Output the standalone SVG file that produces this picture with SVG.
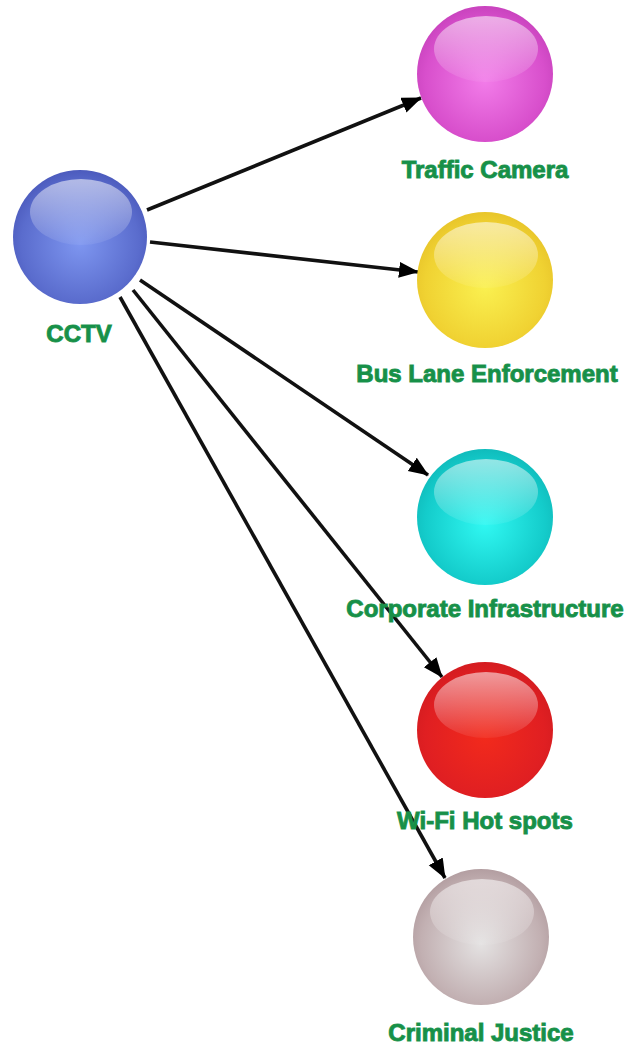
<svg xmlns="http://www.w3.org/2000/svg" width="633" height="1046" viewBox="0 0 633 1046">
<style>
.lbl{font-family:"Liberation Sans",Arial,sans-serif;font-weight:bold;font-size:24px;fill:#179048;text-anchor:middle;stroke:#2a9a58;stroke-width:1;paint-order:stroke}
.edge{stroke:#111;stroke-width:3.6;fill:none;marker-end:url(#ah)}
.hl{fill:url(#hlg)}
</style>
<defs>
<marker id="ah" markerUnits="userSpaceOnUse" markerWidth="24" markerHeight="20" refX="19" refY="8" orient="auto">
<path d="M0,0 L20,8 L0,16 Z" fill="#000"/>
</marker>
<linearGradient id="hlg" x1="0" y1="0" x2="0" y2="1">
<stop offset="0" stop-color="#fff" stop-opacity="0.55"/>
<stop offset="1" stop-color="#fff" stop-opacity="0.06"/>
</linearGradient>
<radialGradient id="gBlue" cx="0.5" cy="0.55" r="0.55">
<stop offset="0" stop-color="#7e96f0"/><stop offset="0.8" stop-color="#5a6ccd"/><stop offset="1" stop-color="#4c5bbd"/>
</radialGradient>
<radialGradient id="gMag" cx="0.5" cy="0.55" r="0.55">
<stop offset="0" stop-color="#f27ce9"/><stop offset="0.8" stop-color="#d84fcc"/><stop offset="1" stop-color="#c943be"/>
</radialGradient>
<radialGradient id="gYel" cx="0.5" cy="0.55" r="0.55">
<stop offset="0" stop-color="#faf050"/><stop offset="0.8" stop-color="#f0d232"/><stop offset="1" stop-color="#e8c52a"/>
</radialGradient>
<radialGradient id="gCyan" cx="0.5" cy="0.55" r="0.55">
<stop offset="0" stop-color="#30f8f2"/><stop offset="0.8" stop-color="#14cccb"/><stop offset="1" stop-color="#10bcbc"/>
</radialGradient>
<radialGradient id="gRed" cx="0.5" cy="0.55" r="0.55">
<stop offset="0" stop-color="#f22a1c"/><stop offset="0.8" stop-color="#e01f22"/><stop offset="1" stop-color="#d41c20"/>
</radialGradient>
<radialGradient id="gGrey" cx="0.5" cy="0.55" r="0.55">
<stop offset="0" stop-color="#e4e2e2"/><stop offset="0.8" stop-color="#c2b0b2"/><stop offset="1" stop-color="#b39ea1"/>
</radialGradient>
</defs>
<rect width="633" height="1046" fill="#fff"/>
<g id="connectors">
<line class="edge" x1="147" y1="210" x2="421" y2="98"/>
<line class="edge" x1="150" y1="242" x2="418" y2="272"/>
<line class="edge" x1="140" y1="280" x2="428" y2="475"/>
<line class="edge" x1="133" y1="290" x2="442" y2="677"/>
<line class="edge" x1="120" y1="297" x2="445" y2="878"/>
</g>
<g id="cctv">
<circle cx="80" cy="237" r="67" fill="url(#gBlue)"/>
<ellipse class="hl" cx="81" cy="212" rx="51" ry="33"/>
<text class="lbl" x="79" y="342">CCTV</text>
</g>
<g id="traffic-camera">
<circle cx="485" cy="74" r="68" fill="url(#gMag)"/>
<ellipse class="hl" cx="486" cy="49" rx="52" ry="33"/>
<text class="lbl" x="485" y="178">Traffic Camera</text>
</g>
<g id="bus-lane">
<circle cx="485" cy="280" r="68" fill="url(#gYel)"/>
<ellipse class="hl" cx="486" cy="255" rx="52" ry="33"/>
<text class="lbl" x="487" y="382">Bus Lane Enforcement</text>
</g>
<g id="corporate">
<circle cx="485" cy="517" r="68" fill="url(#gCyan)"/>
<ellipse class="hl" cx="486" cy="492" rx="52" ry="33"/>
<text class="lbl" x="485" y="617">Corporate Infrastructure</text>
</g>
<g id="wifi">
<circle cx="485" cy="730" r="68" fill="url(#gRed)"/>
<ellipse class="hl" cx="486" cy="705" rx="52" ry="33"/>
<text class="lbl" x="485" y="829">Wi-Fi Hot spots</text>
</g>
<g id="criminal-justice">
<circle cx="481" cy="937" r="68" fill="url(#gGrey)"/>
<ellipse class="hl" cx="482" cy="912" rx="52" ry="33"/>
<text class="lbl" x="481" y="1041">Criminal Justice</text>
</g>
</svg>
